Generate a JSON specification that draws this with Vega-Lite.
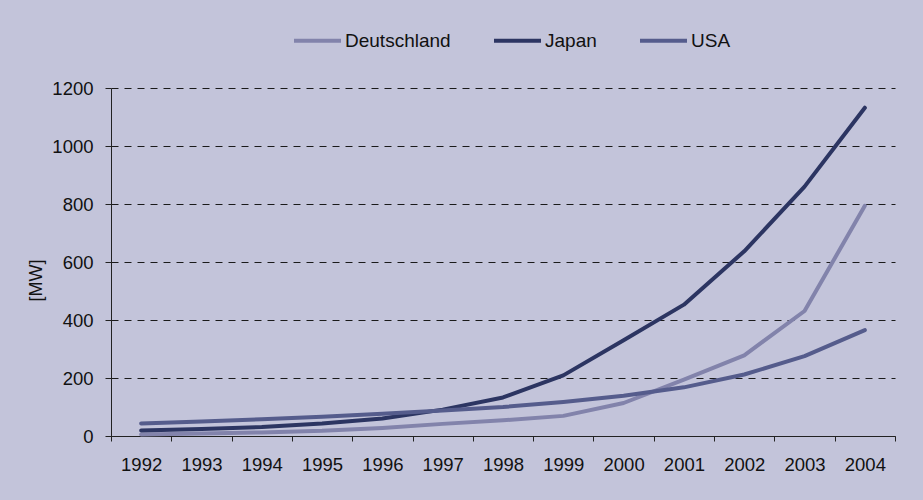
{
  "$schema": "https://vega.github.io/schema/vega-lite/v6.json",
  "width": 784,
  "height": 348,
  "autosize": {"type": "none"},
  "padding": {"left": 111, "top": 88, "right": 28, "bottom": 64},
  "background": "#c3c4da",
  "config": {
    "font": "Liberation Sans",
    "view": {"stroke": null},
    "axis": {"labelFont": "Liberation Sans", "titleFont": "Liberation Sans", "labelColor": "#111", "titleColor": "#111", "domainColor": "#222", "tickColor": "#222"}
  },
  "data": {
    "values": [
      {"year": "1992", "country": "Deutschland", "mw": 5.6},
      {"year": "1993", "country": "Deutschland", "mw": 8.9},
      {"year": "1994", "country": "Deutschland", "mw": 12.4},
      {"year": "1995", "country": "Deutschland", "mw": 17.7},
      {"year": "1996", "country": "Deutschland", "mw": 27.8},
      {"year": "1997", "country": "Deutschland", "mw": 41.8},
      {"year": "1998", "country": "Deutschland", "mw": 53.9},
      {"year": "1999", "country": "Deutschland", "mw": 69.4},
      {"year": "2000", "country": "Deutschland", "mw": 113.8},
      {"year": "2001", "country": "Deutschland", "mw": 194.7},
      {"year": "2002", "country": "Deutschland", "mw": 278},
      {"year": "2003", "country": "Deutschland", "mw": 431},
      {"year": "2004", "country": "Deutschland", "mw": 794},
      {"year": "1992", "country": "Japan", "mw": 19},
      {"year": "1993", "country": "Japan", "mw": 24},
      {"year": "1994", "country": "Japan", "mw": 31},
      {"year": "1995", "country": "Japan", "mw": 43},
      {"year": "1996", "country": "Japan", "mw": 60},
      {"year": "1997", "country": "Japan", "mw": 91},
      {"year": "1998", "country": "Japan", "mw": 133},
      {"year": "1999", "country": "Japan", "mw": 209},
      {"year": "2000", "country": "Japan", "mw": 330},
      {"year": "2001", "country": "Japan", "mw": 453},
      {"year": "2002", "country": "Japan", "mw": 637},
      {"year": "2003", "country": "Japan", "mw": 860},
      {"year": "2004", "country": "Japan", "mw": 1132},
      {"year": "1992", "country": "USA", "mw": 43.5},
      {"year": "1993", "country": "USA", "mw": 50.3},
      {"year": "1994", "country": "USA", "mw": 57.8},
      {"year": "1995", "country": "USA", "mw": 66.8},
      {"year": "1996", "country": "USA", "mw": 76.5},
      {"year": "1997", "country": "USA", "mw": 88.2},
      {"year": "1998", "country": "USA", "mw": 100.1},
      {"year": "1999", "country": "USA", "mw": 117.3},
      {"year": "2000", "country": "USA", "mw": 138.8},
      {"year": "2001", "country": "USA", "mw": 167.8},
      {"year": "2002", "country": "USA", "mw": 212.2},
      {"year": "2003", "country": "USA", "mw": 275.2},
      {"year": "2004", "country": "USA", "mw": 365}
    ]
  },
  "mark": {"type": "line", "strokeWidth": 4, "strokeCap": "round", "strokeJoin": "round"},
  "encoding": {
    "x": {
      "field": "year",
      "type": "ordinal",
      "bandPosition": 0.5,
      "scale": {"type": "band", "paddingInner": 0, "paddingOuter": 0},
      "axis": {
        "title": null,
        "labelAngle": 0,
        "labelFontSize": 18.5,
        "labelPadding": 14,
        "tickBand": "extent",
        "tickSize": 5,
        "grid": false,
        "domainWidth": 1
      }
    },
    "y": {
      "field": "mw",
      "type": "quantitative",
      "scale": {"domain": [0, 1200], "nice": false},
      "axis": {
        "title": "[MW]",
        "format": "d",
        "titleFontSize": 18,
        "titleFontWeight": "normal",
        "titleX": -75,
        "titleY": 192,
        "titleAngle": -90,
        "titleAlign": "center",
        "titleBaseline": "middle",
        "values": [0, 200, 400, 600, 800, 1000, 1200],
        "labelFontSize": 18.5,
        "labelPadding": 12,
        "tickSize": 6,
        "grid": true,
        "gridColor": "#1a1a1a",
        "gridDash": [7, 6],
        "gridWidth": 1,
        "gridOpacity": 1
      }
    },
    "color": {
      "field": "country",
      "type": "nominal",
      "scale": {"domain": ["Deutschland", "Japan", "USA"], "range": ["#8283ab", "#2c3562", "#555c8c"]},
      "legend": {
        "title": null,
        "orient": "none",
        "direction": "horizontal",
        "legendX": 181,
        "legendY": -73,
        "padding": 0,
        "symbolType": "stroke",
        "symbolSize": 2209,
        "symbolStrokeWidth": 4,
        "labelFontSize": 19,
        "labelFont": "Liberation Sans",
        "labelColor": "#111",
        "labelOffset": 2,
        "columnPadding": 35
      }
    }
  }
}
